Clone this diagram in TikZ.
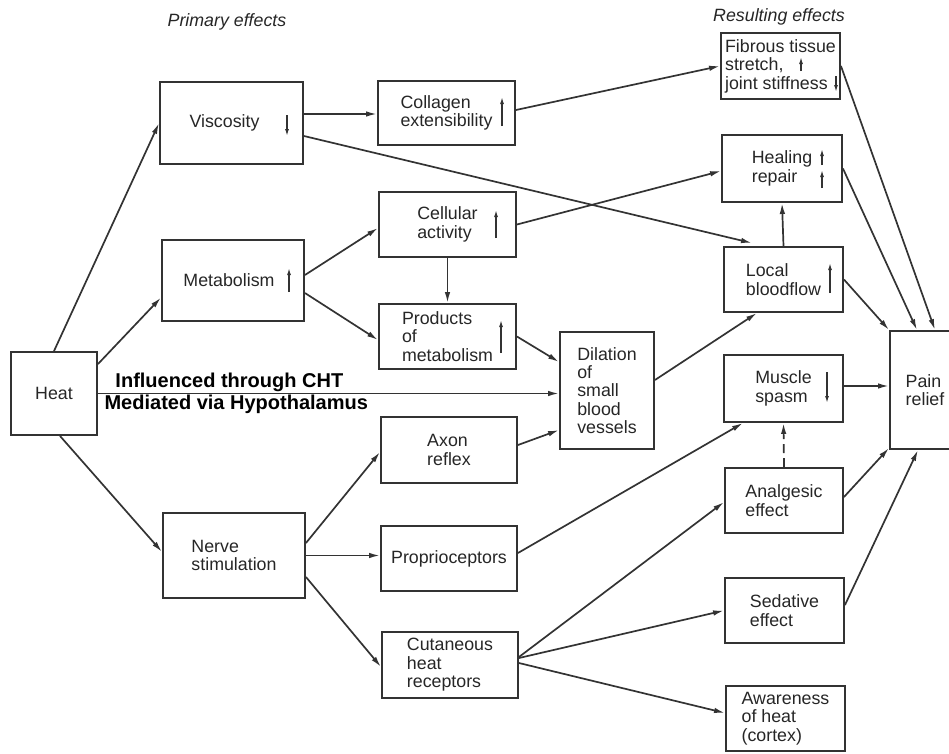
\documentclass[tikz,border=0pt]{standalone}
\usepackage{fontspec}
\setmainfont{Liberation Sans}
\usetikzlibrary{arrows.meta}

\begin{document}
\begin{tikzpicture}[x=1pt,y=-1pt,
  >={Latex[length=11pt,width=5.5pt]},
  every node/.style={font=\fontsize{17.8}{18.4}\selectfont, text=black!85},
  box/.style={draw=black!80, line width=1.9pt, align=left, inner sep=0pt},
  link/.style={->, draw=black!80, line width=1.7pt},
  updown/.style={-{Latex[length=7pt,width=4pt]}, draw=black!80, line width=1.3pt},
  heading/.style={font=\fontsize{17.8}{18.4}\selectfont\itshape},
  note/.style={font=\fontsize{20}{22}\selectfont\bfseries, text=black, inner sep=0.5pt}]
\useasboundingbox (0,0) rectangle (949,753);
\clip (0,0) rectangle (949,753);
% column headings
\node[heading] (prim) at (227,22) {Primary effects};
\node[heading] (resu) at (779,17) {Resulting effects};
% heat and primary effects
\node[box, minimum width=86pt, minimum height=83pt] (heat) at (54,393.5) {Heat};
\node[box, minimum width=143pt, minimum height=82pt] (visc) at (231.5,123) {Viscosity\hspace{14pt}};
\node[box, minimum width=142pt, minimum height=81pt] (metab) at (233,280.5) {Metabolism\hspace{8pt}};
\node[box, minimum width=142pt, minimum height=85pt] (nerve) at (234,555.5) {Nerve\\stimulation};
% second column
\node[box, minimum width=137pt, minimum height=64pt] (coll) at (446.5,113) {Collagen\\extensibility};
\node[box, minimum width=137pt, minimum height=65pt] (cell) at (447.5,224.5) {Cellular\\activity};
\node[box, minimum width=137pt, minimum height=65pt] (prod) at (447.5,336.5) {Products\\of\\metabolism};
\node[box, minimum width=136pt, minimum height=66pt] (axon) at (449,450) {Axon\\reflex};
\node[box, minimum width=136pt, minimum height=65pt] (prop) at (449,558.5) {Proprioceptors};
\node[box, minimum width=136pt, minimum height=66pt] (cuta) at (450,665) {Cutaneous\\heat\\receptors};
\node[box, minimum width=94pt, minimum height=117pt] (dila) at (607,390.5) {Dilation\\of\\small\\blood\\vessels};
% resulting effects
\node[box, minimum width=119pt, minimum height=66pt] (fibr) at (780.5,66) {Fibrous tissue\\stretch,\\joint stiffness};
\node[box, minimum width=120pt, minimum height=67pt] (heal) at (782,168.5) {Healing\\repair};
\node[box, minimum width=119pt, minimum height=65pt] (locb) at (783.5,279.5) {Local\\bloodflow};
\node[box, minimum width=119pt, minimum height=67pt] (musc) at (783.5,388.5) {Muscle\\spasm};
\node[box, minimum width=118pt, minimum height=65pt] (anal) at (784,500.5) {Analgesic\\effect};
\node[box, minimum width=119pt, minimum height=65pt] (seda) at (784.5,610.5) {Sedative\\effect};
\node[box, minimum width=119pt, minimum height=65pt] (awar) at (785.5,718.5) {Awareness\\of heat\\(cortex)};
\node[box, minimum width=70pt, minimum height=118pt] (pain) at (925,390) {Pain\\relief};
% up and down marks
\draw[updown] (287,115) -- (287,136);
\draw[updown] (289,292) -- (289,268);
\draw[updown] (502,126) -- (502,97);
\draw[updown] (496,238) -- (496,210);
\draw[updown] (501,353) -- (501,320);
\draw[updown] (801,71) -- (801,57);
\draw[updown] (836,76) -- (836,92);
\draw[updown] (822,165) -- (822,149);
\draw[updown] (822,188) -- (822,170);
\draw[updown] (830,293) -- (830,263);
\draw[updown] (827,372) -- (827,403);
% connectors from heat
\draw[link] (heat.north) -- (visc.west);
\draw[link] ([yshift=-13pt]heat.north east) -- ([yshift=-17pt]metab.west);
\draw[link] (heat.east) -- (heat.east -| dila.west)
  node[note, above, pos=0.285] (cht) {Influenced through CHT}
  node[note, below, pos=0.3] (hypo) {Mediated via Hypothalamus};
\draw[link] ([xshift=6pt]heat.south) -- ([yshift=3.5pt]nerve.west);
% primary to secondary
\draw[link] ([yshift=9pt]visc.east) -- ([yshift=9pt]visc.east -| coll.west);
\draw[link] ([yshift=-13pt]visc.east) -- ([xshift=-31.5pt,yshift=3pt]locb.north);
\draw[link] ([yshift=5.5pt]metab.east) -- ([yshift=-3.5pt]cell.west);
\draw[link] ([yshift=-12.5pt]metab.east) -- ([yshift=-3.5pt]prod.west);
\draw[link] (cell.south) -- (prod.north);
\draw[link] ([yshift=12.5pt]nerve.east) -- ([yshift=-2pt]axon.west);
\draw[link] (nerve.east) -- (nerve.east -| prop.west);
\draw[link] ([yshift=-21.5pt]nerve.east) -- ([yshift=-2pt]cuta.west);
% into dilation
\draw[link] (prod.east) -- ([yshift=28.5pt]dila.west);
\draw[link] ([yshift=5pt]axon.east) -- ([yshift=-39.5pt]dila.west);
% secondary to resulting effects
\draw[link] ([yshift=3pt]coll.east) -- (fibr.west);
\draw[link] (cell.east) -- ([yshift=-2.5pt]heal.west);
\draw[link] ([yshift=10.5pt]dila.east) -- ([xshift=-26.5pt]locb.south);
\draw[link] ([yshift=5.5pt]prop.east) -- ([xshift=-40.5pt]musc.south);
\draw[link] ([yshift=8pt]cuta.east) -- ([yshift=-1.5pt]anal.west);
\draw[link] ([yshift=7pt]cuta.east) -- (seda.west);
\draw[link] ([yshift=2pt]cuta.east) -- ([yshift=5.5pt]awar.west);
\draw[link] (locb.north) -- (heal.south);
\draw[link, dash pattern=on 9pt off 5pt] (anal.north) -- (musc.south);
% into pain relief
\draw[link] (fibr.east) -- ([xshift=10pt]pain.north);
\draw[link] (heal.east) -- ([xshift=-8pt]pain.north);
\draw[link] (locb.east) -- (pain.north west);
\draw[link] ([yshift=2.5pt]musc.east) -- ([yshift=2.5pt]musc.east -| pain.west);
\draw[link] ([yshift=3.5pt]anal.east) -- ([yshift=2pt]pain.south west);
\draw[link] ([yshift=5.5pt]seda.east) -- ([xshift=-7pt]pain.south);
\end{tikzpicture}
\end{document}
